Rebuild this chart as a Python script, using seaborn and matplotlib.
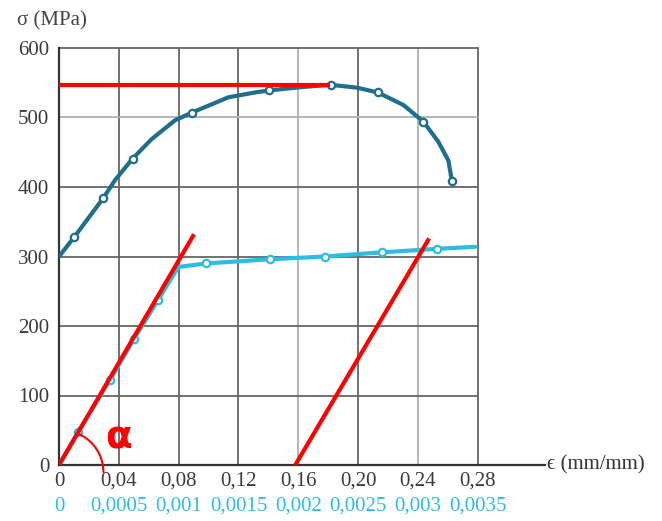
import numpy as np
import pandas as pd
import matplotlib
matplotlib.use("Agg")
import matplotlib.pyplot as plt
import seaborn as sns

# ductile curve (top strain scale)
eps_ductile = [0.0, 0.0102, 0.0296, 0.0375, 0.0493, 0.062, 0.0776, 0.0888, 0.1132, 0.131, 0.1407,
               0.1634, 0.1817, 0.1991, 0.2132, 0.2303, 0.2437, 0.2537, 0.2604, 0.2627]
sig_ductile = [300, 328, 384, 410, 441, 469, 496, 507, 529, 536, 539,
               544, 547, 543, 536, 518, 494, 465, 438, 409]
mark_ductile = [False, True, True, False, True, False, False, True, False, False, True,
                False, True, False, True, False, True, False, False, True]

# elastic/yield curve (bottom strain scale)
eps_elastic = [0.0, 0.000161, 0.000426, 0.00063, 0.00083, 0.000998, 0.00123, 0.00176, 0.00222, 0.0027, 0.00316, 0.00348]
sig_elastic = [0, 48, 122, 182, 238, 285, 290, 296, 300, 306, 311, 314]
mark_elastic = [False, True, True, True, True, False, True, True, True, True, True, False]

# red annotation lines (top scale)
red_eps = [[0.0, 0.0903], [0.158, 0.2475], [0.0, 0.1813]]
red_sig = [[0, 332], [0, 326], [547, 547]]

top_ticks = [0, 0.04, 0.08, 0.12, 0.16, 0.20, 0.24, 0.28]
top_labels = ["0", "0,04", "0,08", "0,12", "0,16", "0,20", "0,24", "0,28"]
bottom_ticks = [0, 0.0005, 0.001, 0.0015, 0.002, 0.0025, 0.003, 0.0035]
bottom_labels = ["0", "0,0005", "0,001", "0,0015", "0,002", "0,0025", "0,003", "0,0035"]
y_ticks = [0, 100, 200, 300, 400, 500, 600]

SCALE = 80  # top strain = bottom strain * 80
dark = "#1d6f8c"
light = "#2cbde3"
serif = ["Liberation Serif", "DejaVu Serif"]

sns.set_style("white")
plt.rcParams["font.family"] = serif

fig = plt.figure(figsize=(6.62, 5.21), dpi=100)
ax = fig.add_axes([59 / 662, 56 / 521, 486 / 662, 417 / 521])

# grid (stops at 0.28 / 600)
for t in top_ticks[1:]:
    shade = "#b0b0b0" if t in (0.16, 0.24) else "#666666"
    ax.plot([t, t], [0, 600], color=shade, lw=1.3, zorder=1, clip_on=False)
for yv in y_ticks[1:]:
    shade = "#b0b0b0" if yv == 500 else "#666666"
    ax.plot([0, 0.28], [yv, yv], color=shade, lw=1.3, zorder=1, clip_on=False)

df_d = pd.DataFrame({"eps": eps_ductile, "sig": sig_ductile, "m": mark_ductile})
df_e = pd.DataFrame({"eps": np.array(eps_elastic) * SCALE, "sig": sig_elastic, "m": mark_elastic})

sns.lineplot(data=df_d, x="eps", y="sig", ax=ax, color=dark, lw=3, sort=False, zorder=3)
sns.lineplot(data=df_e, x="eps", y="sig", ax=ax, color=light, lw=3, sort=False, zorder=3)
for df, c in [(df_d, dark), (df_e, light)]:
    pts = df[df["m"]]
    sns.scatterplot(data=pts, x="eps", y="sig", ax=ax, s=28, marker="o",
                    facecolor="white", edgecolor=c, linewidth=1.6, zorder=4)

for xs, ys in zip(red_eps, red_sig):
    ax.plot(xs, ys, color="#ff0000", lw=3, zorder=5, solid_capstyle="butt")

# angle arc
r_eps = 41.5 / 59.8 * 0.04
r_sig = 41.5 / 0.695
t = np.linspace(0, np.radians(69), 60)
ax.plot(0.0019 + r_eps * np.cos(t), -10 + r_sig * np.sin(t), color="#ff0000", lw=1.5,
        zorder=5, clip_on=False)
ax.text(0.0395, 40, "α", color="#ff0000", fontsize=28, family=["DejaVu Sans"],
        ha="center", va="center", fontweight="bold", zorder=6)

ax.set_xlim(0, 0.325)
ax.set_ylim(0, 600)
ax.set_xticks(top_ticks)
ax.set_xticklabels(top_labels)
ax.set_yticks(y_ticks)
ax.tick_params(axis="both", length=0, labelsize=15, colors="#3a3a3a")
ax.tick_params(axis="x", pad=5)
ax.tick_params(axis="y", pad=7)
ax.set_xlabel("")
ax.set_ylabel("")
for s in ["top", "right"]:
    ax.spines[s].set_visible(False)
for s in ["left", "bottom"]:
    ax.spines[s].set_color("#333333")
    ax.spines[s].set_linewidth(1.6)

sec = ax.secondary_xaxis(0, functions=(lambda x: x / SCALE, lambda x: x * SCALE))
sec.set_xticks(bottom_ticks)
sec.set_xticklabels(bottom_labels)
sec.tick_params(length=0, pad=23, labelsize=15, colors=light)
sec.spines["bottom"].set_visible(False)

ax.text(-0.028, 625, "σ (MPa)", fontsize=15, color="#444444", ha="left", va="bottom")
ax.text(1.005, 0, "ϵ (mm/mm)", transform=ax.transAxes, fontsize=15, color="#333333",
        ha="left", va="center", family=serif)

fig.savefig("out.png", dpi=100)
